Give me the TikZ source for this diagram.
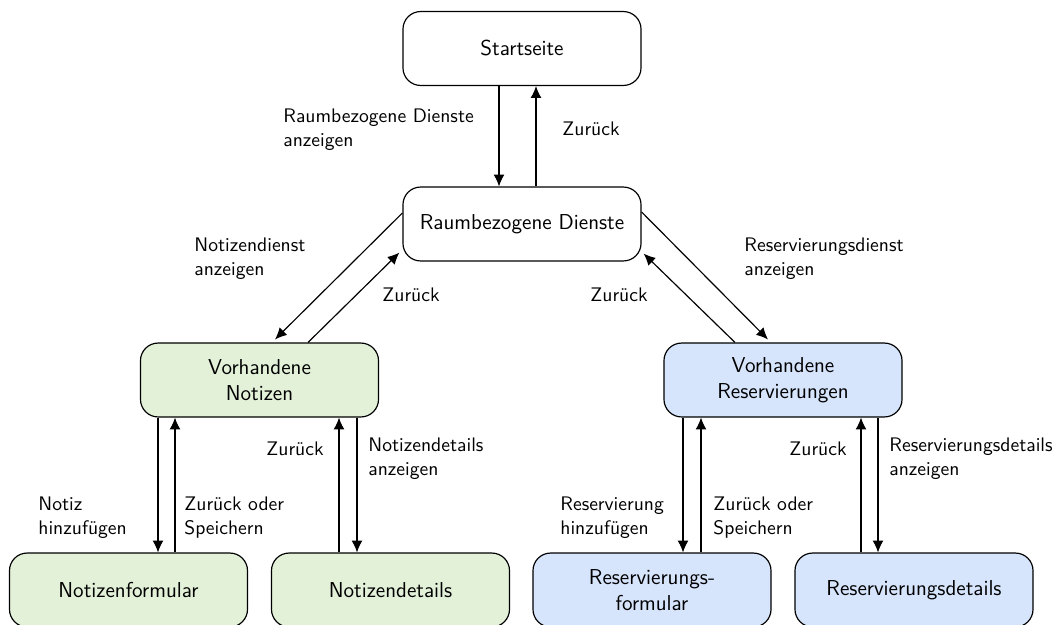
\documentclass[tikz,border=0pt]{standalone}
\usetikzlibrary{arrows.meta,calc}
\definecolor{notegreen}{RGB}{226,241,216}
\definecolor{resblue}{RGB}{214,228,252}
\begin{document}
\sffamily
\begin{tikzpicture}[x=0.51pt,y=-0.51pt,
  screen/.style={draw=black, line width=0.6pt, rounded corners=9pt,
    minimum width=121.4pt, minimum height=37.7pt, align=center, inner sep=2pt,
    font=\sffamily\fontsize{11}{13}\selectfont},
  notes/.style={screen, fill=notegreen},
  res/.style={screen, fill=resblue},
  flow/.style={-{Latex[length=6pt,width=5.5pt]}, line width=0.6pt},
  lbl/.style={anchor=west, align=left, inner sep=0pt,
    font=\sffamily\fontsize{10}{12.2}\selectfont}]

\useasboundingbox (0,0) rectangle (1063,624);

% screens
\node[screen] (start) at (522,48.5) {Startseite};
\node[screen] (rd)    at (522,224)  {Raumbezogene Dienste};
\node[notes]  (vn)    at (259.5,380) {Vorhandene\\Notizen};
\node[res]    (vr)    at (783,380)  {Vorhandene\\Reservierungen};
\node[notes]  (nf)    at (128.5,590) {Notizenformular};
\node[notes]  (nd)    at (390.5,590) {Notizendetails};
\node[res]    (rf)    at (652,590)  {Reservierungs-\\formular};
\node[res]    (rdet)  at (914,590)  {Reservierungsdetails};

% start page <-> room services
\draw[flow] (start.south -| 499,0) -- (rd.north -| 499,0);
\draw[flow] (rd.north -| 536,0) -- (start.south -| 536,0);
\node[lbl] (l1) at (283,130) {Raumbezogene Dienste\\anzeigen};
\node[lbl] (l2) at (562,129) {Zurück};

% room services <-> notes
\draw[flow] ($(rd.west)+(0,-11)$) -- ($(vn.north)+(15.5,-3)$);
\draw[flow] ($(vn.north)+(48.5,0)$) -- ($(rd.south west)+(-3,-9)$);
\node[lbl] (l3) at (194,259) {Notizendienst\\anzeigen};
\node[lbl] (l4) at (382,295) {Zurück};

% room services <-> reservations
\draw[flow] ($(rd.east)+(0,-12)$) -- ($(vr.north)+(-15,-3)$);
\draw[flow] ($(vr.north)+(-48,0)$) -- ($(rd.south east)+(2,-8)$);
\node[lbl] (l5) at (744,259) {Reservierungsdienst\\anzeigen};
\node[lbl] (l6) at (590,295) {Zurück};

% notes <-> form / details
\draw[flow] (vn.south -| 158,0) -- (nf.north -| 158,0);
\draw[flow] (nf.north -| 175,0) -- (vn.south -| 175,0);
\draw[flow] (nd.north -| 339,0) -- (vn.south -| 339,0);
\draw[flow] (vn.south -| 357,0) -- (nd.north -| 357,0);
\node[lbl] (l7)  at (38,518)  {Notiz\\hinzufügen};
\node[lbl] (l8)  at (184,518) {Zurück oder\\Speichern};
\node[lbl] (l9)  at (266,449) {Zurück};
\node[lbl] (l10) at (368,459) {Notizendetails\\anzeigen};

% reservations <-> form / details
\draw[flow] (vr.south -| 683,0) -- (rf.north -| 683,0);
\draw[flow] (rf.north -| 701,0) -- (vr.south -| 701,0);
\draw[flow] (rdet.north -| 861,0) -- (vr.south -| 861,0);
\draw[flow] (vr.south -| 878,0) -- (rdet.north -| 878,0);
\node[lbl] (l11) at (560,518) {Reservierung\\hinzufügen};
\node[lbl] (l12) at (713,518) {Zurück oder\\Speichern};
\node[lbl] (l13) at (789,449) {Zurück};
\node[lbl] (l14) at (889,459) {Reservierungsdetails\\anzeigen};
\end{tikzpicture}
\end{document}
